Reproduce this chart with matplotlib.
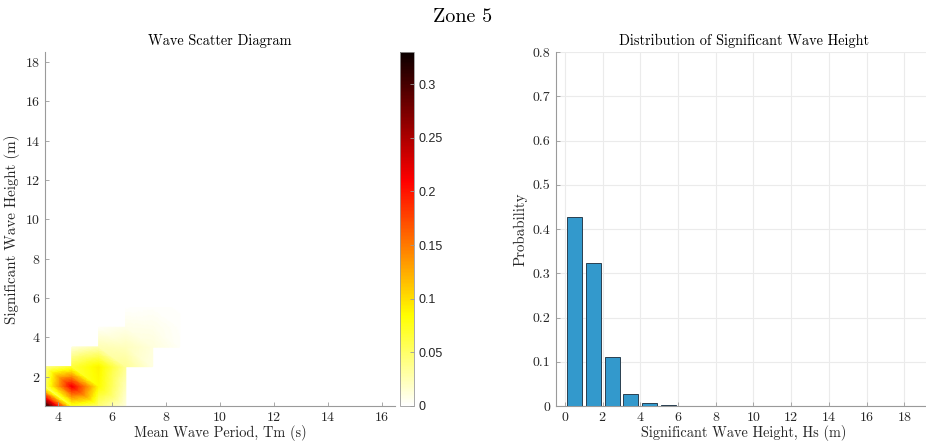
import numpy as np
import matplotlib
matplotlib.use("Agg")
import matplotlib.pyplot as plt
import matplotlib.tri as mtri

# ---- data -------------------------------------------------------------
# Scatter grid nodes (bin centres)
tm_nodes = [3.5, 4.5, 5.5, 6.5, 7.5, 8.5, 9.5, 10.5, 11.5, 12.5, 13.5, 14.5, 15.5, 16.5]
hs_nodes = [0.5, 1.5, 2.5, 3.5, 4.5, 5.5, 6.5, 7.5, 8.5, 9.5, 10.5, 11.5, 12.5,
            13.5, 14.5, 15.5, 16.5, 17.5, 18.5]

nan = np.nan
# Joint probability for the occupied part of the grid
# rows: Hs = 0.5 ... 5.5, columns: Tm = 3.5 ... 8.5 (empty bins are NaN)
scatter_hs_05 = [0.330, 0.070, 0.045, 0.010, nan, nan]
scatter_hs_15 = [0.050, 0.215, 0.085, 0.022, nan, nan]
scatter_hs_25 = [0.035, 0.065, 0.090, 0.035, 0.010, nan]
scatter_hs_35 = [nan, 0.012, 0.025, 0.022, 0.012, 0.003]
scatter_hs_45 = [nan, nan, 0.003, 0.008, 0.007, 0.002]
scatter_hs_55 = [nan, nan, nan, 0.001, 0.002, 0.001]

# Marginal distribution of Hs
hs_bins = hs_nodes
hs_prob = [0.428, 0.3225, 0.110, 0.0278, 0.0061, 0.0016, 0.0007,
           0, 0, 0, 0, 0, 0, 0, 0, 0, 0, 0, 0]

# ---- styling ----------------------------------------------------------
plt.rcParams["font.family"] = ["cmr10", "DejaVu Serif"]
plt.rcParams["axes.formatter.use_mathtext"] = True
plt.rcParams["mathtext.fontset"] = "cm"
axis_grey = "#262626"
spine_grey = "#9a9a9a"

fig = plt.figure(figsize=(9.26, 4.47), dpi=100)
W, H = 926.0, 447.0


def frame(x0, y0, x1, y1):
    return [x0 / W, 1 - y1 / H, (x1 - x0) / W, (y1 - y0) / H]


def style_axes(ax):
    for s in ("top", "right"):
        ax.spines[s].set_visible(False)
    for s in ("left", "bottom"):
        ax.spines[s].set_color(spine_grey)
        ax.spines[s].set_linewidth(0.8)
    ax.tick_params(direction="in", length=3, width=0.6, colors=spine_grey,
                   labelcolor=axis_grey, labelsize=10)


# ---- scatter diagram --------------------------------------------------
block = np.array([scatter_hs_05, scatter_hs_15, scatter_hs_25,
                  scatter_hs_35, scatter_hs_45, scatter_hs_55])
Z = np.full((len(hs_nodes), len(tm_nodes)), np.nan)
Z[:block.shape[0], :block.shape[1]] = block

TT, HH = np.meshgrid(tm_nodes, hs_nodes)
nx = len(tm_nodes)
idx = lambda i, j: i * nx + j
tris = []
for i in range(len(hs_nodes) - 1):
    for j in range(nx - 1):
        a, b, c, d = idx(i, j), idx(i, j + 1), idx(i + 1, j), idx(i + 1, j + 1)
        for t in ([a, b, c], [b, d, c]):
            if np.all(np.isfinite(Z.ravel()[t])):
                tris.append(t)
zflat = np.nan_to_num(Z.ravel())
tri = mtri.Triangulation(TT.ravel(), HH.ravel(), np.array(tris))
refiner = mtri.UniformTriRefiner(tri)
rtri, rz = refiner.refine_field(zflat, triinterpolator=mtri.LinearTriInterpolator(tri, zflat),
                                subdiv=5)

ax1 = fig.add_axes(frame(45, 52, 395, 406))
vmax = np.nanmax(Z)
pc = ax1.tripcolor(rtri, rz, shading="gouraud", cmap="hot_r", vmin=0, vmax=vmax)
ax1.set_xlim(tm_nodes[0], tm_nodes[-1])
ax1.set_ylim(hs_nodes[0], hs_nodes[-1])
ax1.set_xticks([4, 6, 8, 10, 12, 14, 16])
ax1.set_yticks([2, 4, 6, 8, 10, 12, 14, 16, 18])
ax1.set_title("Wave Scatter Diagram", fontsize=10.3, color="black", pad=5)
ax1.set_xlabel("Mean Wave Period, Tm (s)", fontsize=10.3, color=axis_grey, labelpad=1)
ax1.set_ylabel("Significant Wave Height (m)", fontsize=10.8, color=axis_grey, labelpad=3)
style_axes(ax1)

cax = fig.add_axes(frame(400, 52, 414, 406))
cb = fig.colorbar(pc, cax=cax)
cb.set_ticks([0, 0.05, 0.1, 0.15, 0.2, 0.25, 0.3])
cb.set_ticklabels(["0", "0.05", "0.1", "0.15", "0.2", "0.25", "0.3"])
cb.outline.set_edgecolor(spine_grey)
cb.outline.set_linewidth(0.6)
cax.tick_params(direction="in", length=3, width=0.6, colors=spine_grey,
                labelcolor=axis_grey, labelsize=9)
for lab in cax.get_yticklabels():
    lab.set_fontfamily(["Liberation Sans", "DejaVu Sans"])

# ---- Hs distribution --------------------------------------------------
ax2 = fig.add_axes(frame(555.5, 52, 932.5, 406))
ax2.bar(hs_bins, hs_prob, width=0.8, color="#3399cc", edgecolor="#2a3f50",
        linewidth=0.7, zorder=3)
ax2.set_xlim(-0.5, 19.5)
ax2.set_ylim(0, 0.8)
ax2.set_xticks([0, 2, 4, 6, 8, 10, 12, 14, 16, 18])
ax2.set_yticks([0, 0.1, 0.2, 0.3, 0.4, 0.5, 0.6, 0.7, 0.8])
ax2.set_yticklabels(["0", "0.1", "0.2", "0.3", "0.4", "0.5", "0.6", "0.7", "0.8"])
ax2.grid(True, color="#ebebeb", linewidth=0.8, zorder=0)
ax2.set_axisbelow(True)
ax2.set_title("Distribution of Significant Wave Height", fontsize=10.3, color="black", pad=5)
ax2.set_xlabel("Significant Wave Height, Hs (m)", fontsize=10.3, color=axis_grey, labelpad=1)
ax2.set_ylabel("Probability", fontsize=10.8, color=axis_grey, labelpad=4)
style_axes(ax2)

fig.text(0.5, 1 - 17 / H, "Zone 5", ha="center", va="center", fontsize=14.5, color="black")

fig.savefig("out.png", dpi=100)
